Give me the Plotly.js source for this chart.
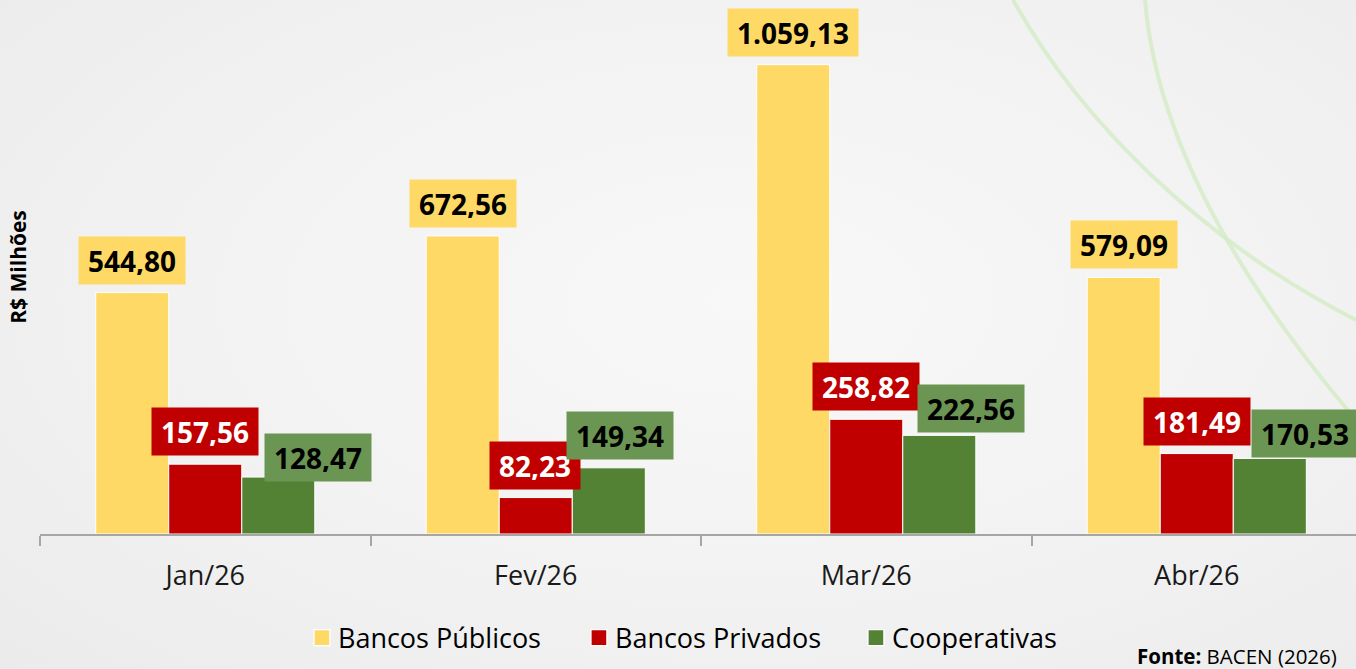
<!DOCTYPE html>
<html>
<head>
<meta charset="utf-8">
<script src="https://cdn.plot.ly/plotly-3.0.1.min.js"></script>
<style>
  html, body { margin: 0; padding: 0; width: 1356px; height: 669px; overflow: hidden; }
  body {
    background: radial-gradient(ellipse 75% 80% at 55% 45%, #f8f8f8 0%, #f2f2f2 55%, #ebebeb 100%);
    position: relative;
  }
  #deco { position: absolute; left: 0; top: 0; width: 1356px; height: 669px; z-index: 0; }
  #chart { position: absolute; left: 0; top: 0; width: 1356px; height: 669px; z-index: 1; }
  /* bigger legend swatches, closer to their labels, as in the reference */
  #chart .legend .legendpoints path {
    transform-box: fill-box;
    transform-origin: center;
    transform: translate(24px, 0) scale(1.33);
  }
</style>
</head>
<body>
<svg id="deco" width="1356" height="669" viewBox="0 0 1356 669">
  <path d="M1013,0 C1080,120 1200,240 1356,320" fill="none" stroke="#d3ecc6" stroke-width="4" opacity="0.8"/>
  <path d="M1145,0 C1155,120 1220,260 1356,420" fill="none" stroke="#d3ecc6" stroke-width="4" opacity="0.8"/>
</svg>
<div id="chart"></div>
<script>
// ---- data ----
const categories = ['Jan/26', 'Fev/26', 'Mar/26', 'Abr/26'];
const bancosPublicos = [544.80, 672.56, 1059.13, 579.09];
const bancosPrivados = [157.56, 82.23, 258.82, 181.49];
const cooperativas = [128.47, 149.34, 222.56, 170.53];
const seriesNames = ['Bancos Públicos', 'Bancos Privados', 'Cooperativas'];
const yTitle = 'R$ Milhões';
const sourceText = '<b>Fonte:</b> BACEN (2026)';

// ---- style ----
const barColors = ['#FFD966', '#C00000', '#548235'];
const boxColors = ['#FFD966', '#C00000', '#6B9552'];
const boxTextColors = ['#000000', '#FFFFFF', '#000000'];
const bargap = 0.337;
// label nudges (px) per series / category
const labelDx = [[0, 0, 0, 0], [0, -1, 0, 0], [40, 11, 32, 35]];
const labelDy = [[8, 8, 8, 8], [8, 8, 8, 8], [-5, 8, 2, 0]];

function fmtBR(v) {
  const parts = v.toFixed(2).split('.');
  const intPart = parts[0].replace(/\B(?=(\d{3})+(?!\d))/g, '.');
  return intPart + ',' + parts[1];
}

const seriesValues = [bancosPublicos, bancosPrivados, cooperativas];

const traces = seriesValues.map((vals, k) => ({
  type: 'bar',
  name: seriesNames[k],
  x: categories,
  y: vals,
  marker: { color: barColors[k], line: { color: '#FFFFFF', width: 1 } },
  hoverinfo: 'x+y+name'
}));

const barW = (1 - bargap) / seriesValues.length;
const annotations = [];
seriesValues.forEach((vals, k) => {
  vals.forEach((v, i) => {
    annotations.push({
      x: i + (k - (seriesValues.length - 1) / 2) * barW,
      y: v,
      xref: 'x', yref: 'y',
      text: '<b>' + fmtBR(v) + '</b>',
      showarrow: false,
      xanchor: 'center', yanchor: 'bottom',
      xshift: labelDx[k][i], yshift: labelDy[k][i],
      bgcolor: boxColors[k],
      borderpad: 9,
      height: 29,
      valign: 'middle',
      font: { family: 'Open Sans, sans-serif', size: 28, color: boxTextColors[k] }
    });
  });
});

annotations.push({
  xref: 'paper', yref: 'paper',
  x: 1, y: -0.228,
  xanchor: 'right', yanchor: 'middle',
  xshift: -17,
  showarrow: false,
  text: sourceText,
  font: { family: 'Open Sans, sans-serif', size: 20.5, color: '#000000' }
});

const layout = {
  width: 1356, height: 669,
  margin: { l: 40, r: 0, t: 0, b: 135, pad: 0 },
  paper_bgcolor: 'rgba(0,0,0,0)',
  plot_bgcolor: 'rgba(0,0,0,0)',
  barmode: 'group',
  bargap: bargap,
  bargroupgap: 0,
  font: { family: 'Open Sans, sans-serif', color: '#000000' },
  xaxis: {
    type: 'category',
    range: [-0.5, 3.4818],
    showline: true, linecolor: '#A6A6A6', linewidth: 2,
    ticks: 'outside', tickson: 'boundaries', ticklen: 10, tickwidth: 2, tickcolor: '#A6A6A6',
    tickfont: { family: 'Open Sans, sans-serif', size: 27, color: '#1A1A1A' },
    ticklabelstandoff: 17,
    showgrid: false, zeroline: false, fixedrange: true
  },
  yaxis: {
    range: [0, 1205],
    showticklabels: false, showgrid: false, zeroline: false, showline: false, ticks: '',
    title: { text: '<b>' + yTitle + '</b>', font: { family: 'Open Sans, sans-serif', size: 21, color: '#000000' }, standoff: 6 },
    fixedrange: true
  },
  showlegend: true,
  legend: {
    orientation: 'h',
    x: 0.196, xanchor: 'left',
    y: -0.195, yanchor: 'middle',
    entrywidth: 232, entrywidthmode: 'pixels',
    font: { family: 'Open Sans, sans-serif', size: 27, color: '#000000' },
    bgcolor: 'rgba(0,0,0,0)',
    traceorder: 'normal'
  },
  annotations: annotations
};

Plotly.newPlot('chart', traces, layout, { displayModeBar: false, staticPlot: true });
</script>
</body>
</html>
